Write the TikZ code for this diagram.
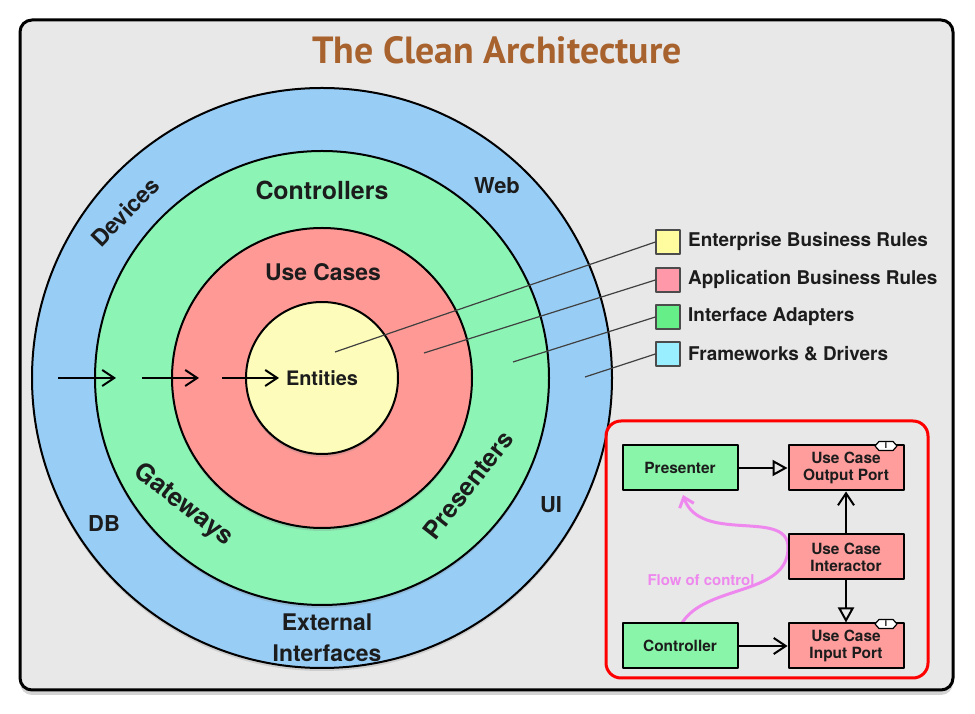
\documentclass[tikz,border=0pt]{standalone}
\usepackage{fontspec}
\setmainfont{TeX Gyre Heros}
\newfontfamily\titlefont{PT Sans}
\usetikzlibrary{arrows.meta,shadows}
\definecolor{framegray}{RGB}{232,232,232}
\definecolor{titlebrown}{RGB}{168,98,46}
\definecolor{labelink}{RGB}{28,28,28}
\definecolor{ringblue}{RGB}{152,205,246}
\definecolor{ringgreen}{RGB}{140,245,182}
\definecolor{ringred}{RGB}{255,153,150}
\definecolor{ringyellow}{RGB}{253,252,186}
\definecolor{keyyellow}{RGB}{255,252,160}
\definecolor{keypink}{RGB}{255,153,170}
\definecolor{keygreen}{RGB}{102,238,136}
\definecolor{keycyan}{RGB}{153,238,255}
\definecolor{boxgreen}{RGB}{136,245,168}
\definecolor{boxpink}{RGB}{255,156,156}
\definecolor{flowpink}{RGB}{238,136,238}
\begin{document}
\begin{tikzpicture}[line join=round,
  ring/.style={circle,draw=black,line width=2bp,inner sep=0pt,
    drop shadow={opacity=0.25,shadow xshift=0bp,shadow yshift=-3bp}},
  ringlabel/.style={inner sep=0pt,align=center,text=labelink,
    font=\bfseries\fontsize{23}{26}\selectfont},
  keybox/.style={draw=black!70,line width=1.2bp,minimum size=24bp,inner sep=0pt},
  keytext/.style={anchor=west,inner sep=0pt,text=labelink,
    font=\bfseries\fontsize{19}{20}\selectfont},
  umlbox/.style={draw=black,line width=2bp,minimum width=115bp,minimum height=45bp,
    inner sep=0pt,align=center,text=labelink,font=\bfseries\fontsize{15.5}{17}\selectfont},
  ifacemark/.style={inner sep=0pt,font=\bfseries\fontsize{8}{8}\selectfont},
  markline/.style={draw=black,fill=white,line width=1.2bp},
  flowarrow/.style={-{Straight Barb[length=12bp,width=16bp,line width=2bp]},line width=2bp,black},
  implarrow/.style={-{Triangle[open,length=15bp,width=16bp,line width=2bp]},line width=2bp,black},
]
\useasboundingbox (0bp,0bp) rectangle (975bp,714bp);
%%
\draw [fill=framegray,line width=3bp,rounded corners=12bp,
  drop shadow={opacity=0.35,shadow xshift=0bp,shadow yshift=-5bp}]
  (20bp,24bp) rectangle (953bp,694bp);
\node (title) at (497bp,664bp) [text=titlebrown,font=\titlefont\bfseries\fontsize{38}{40}\selectfont] {The Clean Architecture};
%%
\node (ring_blue) at (322bp,336bp) [ring,fill=ringblue,minimum size=580bp] {};
\node (ring_green) at (322bp,336bp) [ring,fill=ringgreen,minimum size=454bp] {};
\node (ring_red) at (322bp,336bp) [ring,fill=ringred,minimum size=300bp] {};
\node (ring_yellow) at (322bp,336bp) [ring,fill=ringyellow,minimum size=152bp] {};
%
\node (entities) at (322bp,336bp) [ringlabel,font=\bfseries\fontsize{20}{22}\selectfont] {Entities};
\node (usecases) at (323bp,442bp) [ringlabel] {Use Cases};
\node (controllers) at (322bp,524bp) [ringlabel,font=\bfseries\fontsize{25}{27}\selectfont] {Controllers};
\node (web) at (497bp,528bp) [ringlabel,font=\bfseries\fontsize{22}{24}\selectfont] {Web};
\node (devices) at (125bp,502bp) [ringlabel,rotate=46] {Devices};
\node (db) at (104bp,190bp) [ringlabel,font=\bfseries\fontsize{22}{24}\selectfont] {DB};
\node (ui) at (551bp,209bp) [ringlabel,font=\bfseries\fontsize{22}{24}\selectfont] {UI};
\node (extiface) at (327bp,76bp) [ringlabel,font=\bfseries\fontsize{23}{31}\selectfont] {External\\Interfaces};
\node (gateways) at (183bp,209bp) [ringlabel,rotate=-38,font=\bfseries\fontsize{25.5}{27}\selectfont] {Gateways};
\node (presenters) at (468bp,229bp) [ringlabel,rotate=52,font=\bfseries\fontsize{25}{27}\selectfont] {Presenters};
%
\coordinate (dep_1a) at (58bp,336bp);
\coordinate (dep_1b) at (116bp,336bp);
\coordinate (dep_2a) at (142bp,336bp);
\coordinate (dep_2b) at (199bp,336bp);
\coordinate (dep_3a) at (222bp,336bp);
\coordinate (dep_3b) at (279bp,336bp);
\draw [flowarrow] (dep_1a) -- (dep_1b);
\draw [flowarrow] (dep_2a) -- (dep_2b);
\draw [flowarrow] (dep_3a) -- (dep_3b);
%%
\node (key_0) at (668bp,472bp) [keybox,fill=keyyellow] {};
\node (key_1) at (668bp,434bp) [keybox,fill=keypink] {};
\node (key_2) at (668bp,397bp) [keybox,fill=keygreen] {};
\node (key_3) at (668bp,360bp) [keybox,fill=keycyan] {};
\node (keytext_0) at (688bp,472bp) [keytext] {Enterprise Business Rules};
\node (keytext_1) at (688bp,434bp) [keytext] {Application Business Rules};
\node (keytext_2) at (688bp,397bp) [keytext] {Interface Adapters};
\node (keytext_3) at (688bp,360bp) [keytext] {Frameworks \& Drivers};
\coordinate (pin_0) at (335bp,362bp);
\coordinate (pin_1) at (424bp,361bp);
\coordinate (pin_2) at (513bp,352bp);
\coordinate (pin_3) at (585bp,337bp);
\draw [black!75,line width=1.2bp] (key_0.west) -- (pin_0);
\draw [black!75,line width=1.2bp] (key_1.west) -- (pin_1);
\draw [black!75,line width=1.2bp] (key_2.west) -- (pin_2);
\draw [black!75,line width=1.2bp] (key_3.west) -- (pin_3);
%%
\draw [red,line width=3bp,rounded corners=15bp] (606bp,36bp) rectangle (928bp,293bp);
\coordinate (flow_start) at (682bp,91bp);
\coordinate (flow_end) at (683bp,219bp);
\draw [flowpink,line width=3bp,-{Straight Barb[length=9bp,width=15bp,line width=3bp]}]
  (flow_start) .. controls (706bp,130bp) and (790bp,118bp) .. (788bp,168bp)
  .. controls (786bp,205bp) and (700bp,170bp) .. (flow_end);
\node (flowlabel) at (701bp,134bp) [text=flowpink,font=\bfseries\fontsize{15}{17}\selectfont] {Flow of control};
\node (presenter) at (680bp,246bp) [umlbox,fill=boxgreen] {Presenter};
\node (outport) at (846bp,246bp) [umlbox,fill=boxpink] {Use Case\\Output Port};
\node (interactor) at (846bp,157bp) [umlbox,fill=boxpink] {Use Case\\Interactor};
\node (controller) at (680bp,68bp) [umlbox,fill=boxgreen] {Controller};
\node (inport) at (846bp,68bp) [umlbox,fill=boxpink] {Use Case\\Input Port};
\coordinate (outmark_c) at (886bp,268bp);
\coordinate (inmark_c) at (886bp,90bp);
\draw [markline] ([xshift=-11bp]outmark_c) -- ++(4bp,4.5bp) -- ++(14bp,0bp) -- ++(4bp,-4.5bp)
  -- ++(-4bp,-4.5bp) -- ++(-14bp,0bp) -- cycle;
\draw [markline] ([xshift=-11bp]inmark_c) -- ++(4bp,4.5bp) -- ++(14bp,0bp) -- ++(4bp,-4.5bp)
  -- ++(-4bp,-4.5bp) -- ++(-14bp,0bp) -- cycle;
\node (outmark) at (outmark_c) [ifacemark] {I};
\node (inmark) at (inmark_c) [ifacemark] {I};
\draw [implarrow] (presenter) -- (outport);
\draw [flowarrow] (interactor) -- (outport);
\draw [implarrow] (interactor) -- (inport);
\draw [flowarrow] (controller) -- (inport);
%
\end{tikzpicture}
\end{document}
